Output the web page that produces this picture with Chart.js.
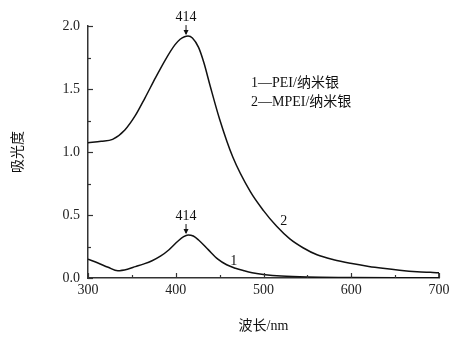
<!DOCTYPE html>
<html>
<head>
<meta charset="utf-8">
<script src="https://cdn.jsdelivr.net/npm/chart.js@4"></script>
<style>
  html, body { margin: 0; padding: 0; background: #fff; }
</style>
</head>
<body>
<canvas id="grafico" width="475" height="339"></canvas>
<script>
// curva 1: PEI/纳米银
const wl1 = [300, 312, 323, 334, 345, 354, 363, 373, 383, 392, 403, 409, 414, 420, 426, 437, 448, 458, 468, 478, 487, 502, 520, 550, 600, 650, 700];
const abs1 = [0.15, 0.117, 0.085, 0.058, 0.07, 0.09, 0.11, 0.137, 0.175, 0.222, 0.296, 0.328, 0.341, 0.333, 0.302, 0.225, 0.15, 0.105, 0.077, 0.057, 0.042, 0.026, 0.015, 0.007, 0.004, 0.002, 0.001];

// curva 2: MPEI/纳米银
const wl2 = [300, 315, 328, 342, 354, 365, 377, 388, 399, 405, 410, 414, 419, 426, 432, 439, 450, 465, 485, 500, 515, 530, 545, 561, 580, 599, 620, 636, 655, 675, 690, 700, 700];
const abs2 = [1.074, 1.085, 1.10, 1.175, 1.29, 1.43, 1.59, 1.73, 1.85, 1.895, 1.915, 1.92, 1.905, 1.83, 1.71, 1.53, 1.26, 0.96, 0.685, 0.535, 0.41, 0.31, 0.24, 0.184, 0.145, 0.117, 0.092, 0.077, 0.062, 0.05, 0.045, 0.042, 0];

const xTicks = [300, 400, 500, 600, 700];
const yTicks = [0.0, 0.5, 1.0, 1.5, 2.0];

const picos = [
  { x: 414, y: 1.92, texto: "414" },
  { x: 414, y: 0.341, texto: "414" },
];
const etiquetas = [
  { x: 466, y: 0.13, texto: "1" },
  { x: 523, y: 0.45, texto: "2" },
];
const leyenda = ["1\u2014PEI/纳米银", "2\u2014MPEI/纳米银"];

const fuente = '"Liberation Serif", "Noto Sans CJK SC", serif';

const toPts = (xs, ys) => xs.map((x, i) => ({ x: x, y: ys[i] }));

// ticks hacia adentro + anotaciones
const extras = {
  id: "extras",
  afterDraw(chart) {
    const ctx = chart.ctx;
    const xs = chart.scales.x;
    const ys = chart.scales.y;
    const area = chart.chartArea;
    ctx.save();
    ctx.strokeStyle = "#333";
    ctx.lineWidth = 1.2;
    // eje x
    for (let v = 300; v <= 700; v += 50) {
      const px = Math.round(xs.getPixelForValue(v)) + 0.5;
      const len = v % 100 === 0 ? 5 : 3;
      ctx.beginPath();
      ctx.moveTo(px, area.bottom);
      ctx.lineTo(px, area.bottom - len);
      ctx.stroke();
    }
    // eje y
    for (let v = 0; v <= 2.0001; v += 0.25) {
      const py = Math.round(ys.getPixelForValue(v)) + 0.5;
      const len = Math.abs(v * 2 - Math.round(v * 2)) < 1e-6 ? 5 : 3;
      ctx.beginPath();
      ctx.moveTo(area.left, py);
      ctx.lineTo(area.left + len, py);
      ctx.stroke();
    }
    // picos con flecha
    ctx.fillStyle = "#111";
    ctx.strokeStyle = "#111";
    ctx.font = "14px " + fuente;
    ctx.textAlign = "center";
    ctx.textBaseline = "middle";
    picos.forEach((p) => {
      const px = xs.getPixelForValue(p.x) - 2;
      const py = ys.getPixelForValue(p.y);
      ctx.fillText(p.texto, px, py - 19);
      ctx.lineWidth = 1;
      ctx.beginPath();
      ctx.moveTo(px, py - 11);
      ctx.lineTo(px, py - 2);
      ctx.stroke();
      ctx.beginPath();
      ctx.moveTo(px - 2.5, py - 6);
      ctx.lineTo(px + 2.5, py - 6);
      ctx.lineTo(px, py - 1);
      ctx.closePath();
      ctx.fill();
    });
    // numeros de curva
    etiquetas.forEach((e) => {
      ctx.fillText(e.texto, xs.getPixelForValue(e.x), ys.getPixelForValue(e.y));
    });
    // leyenda
    ctx.textAlign = "left";
    ctx.font = "14px " + fuente;
    ctx.fillText(leyenda[0], area.left + 163, 83);
    ctx.fillText(leyenda[1], area.left + 163, 102);
    ctx.restore();
  },
};

const ctx = document.getElementById("grafico").getContext("2d");
const grafico = new Chart(ctx, {
  type: "line",
  data: {
    datasets: [
      {
        label: "1",
        data: toPts(wl1, abs1),
        borderColor: "#111",
        borderWidth: 1.5,
        pointRadius: 0,
        tension: 0.4,
        cubicInterpolationMode: "monotone",
        fill: false,
      },
      {
        label: "2",
        data: toPts(wl2, abs2),
        borderColor: "#111",
        borderWidth: 1.5,
        pointRadius: 0,
        tension: 0.4,
        cubicInterpolationMode: "monotone",
        fill: false,
      },
    ],
  },
  options: {
    responsive: false,
    animation: false,
    devicePixelRatio: 1,
    layout: { padding: { left: 0, top: 26, right: 36, bottom: 0 } },
    plugins: { legend: { display: false }, tooltip: { enabled: false } },
    scales: {
      x: {
        type: "linear",
        min: 300,
        max: 700,
        afterBuildTicks: (s) => { s.ticks = xTicks.map((v) => ({ value: v })); },
        afterFit: (s) => { s.height = 61; },
        grid: { display: true, drawOnChartArea: false, drawTicks: false },
        border: { display: true, color: "#333", width: 1.5 },
        ticks: { color: "#222", padding: 4, maxRotation: 0, autoSkip: false, font: { family: fuente, size: 14 } },
        title: {
          display: true,
          text: "波长/nm",
          color: "#111",
          font: { family: fuente, size: 14 },
          padding: { top: 0, bottom: 4 },
        },
      },
      y: {
        min: 0,
        max: 2.0,
        afterBuildTicks: (s) => { s.ticks = yTicks.map((v) => ({ value: v })); },
        afterFit: (s) => { s.width = 88; },
        grid: { display: true, drawOnChartArea: false, drawTicks: false },
        border: { display: true, color: "#333", width: 1.5 },
        ticks: {
          color: "#222",
          padding: 8,
          autoSkip: false,
          font: { family: fuente, size: 14 },
          callback: (v) => Number(v).toFixed(1),
        },
        title: {
          display: true,
          text: "吸光度",
          color: "#111",
          font: { family: fuente, size: 14 },
          padding: { top: 10, bottom: 0 },
        },
      },
    },
  },
  plugins: [extras],
});
</script>
</body>
</html>
